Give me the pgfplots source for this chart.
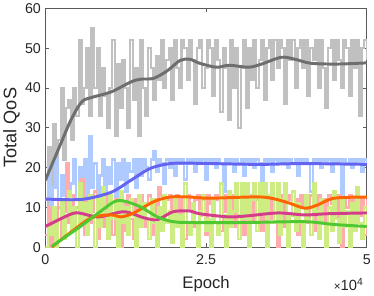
\documentclass[border=0pt]{standalone}
\usepackage{fontspec}
\setmainfont{Liberation Sans}
\usepackage{pgfplots}
\pgfplotsset{compat=1.18}
\usepackage{pgfplotstable}
\definecolor{cgrayn}{RGB}{192,192,192}
\definecolor{cgrays}{RGB}{110,110,110}
\definecolor{cbluen}{RGB}{175,202,255}
\definecolor{cblues}{RGB}{100,100,240}
\definecolor{credn}{RGB}{255,172,172}
\definecolor{corange}{RGB}{255,100,0}
\definecolor{cmag}{RGB}{212,60,140}
\definecolor{cgreens}{RGB}{80,200,50}
\definecolor{cgreenn}{RGB}{205,236,130}
\definecolor{caxis}{RGB}{90,90,90}
\pgfplotstableread{
x gray lblue lred lgreen
0 3 12 3 0
400 25 20 10 5
800 10 8 0 3
1200 31 15 8 10
1600 18 22 5 0
2000 27 10 12 7
2400 40 18 2 12
2800 22 13 9 2
3200 35 21 21 8
3600 37 11 6 14
4000 27 16 13 4
4400 40 22 4 10
4800 33 12 10 0
5200 52 20 7 16
5600 36 14 17 6
6000 40 22 3 11
6400 50 10 12 3
6800 33 28 6 13
7200 55 15 9 8
7600 40 21 14 0
8000 50 12 2 12
8400 33 18 11 5
8800 45 22 5 15
9200 38 13 13 9
9600 30 20 7 2
10000 40 16 10 13
10400 52 22 3 7
10800 28 11 12 11
11200 46 21 6 0
11600 35 17 0 14
12000 47 22 11 6
12400 40 14 4 10
12800 30 21 13 3
13200 52 19 7 12
13600 37 22 2 8
14000 45 15 12 0
14400 28 22 9 13
14800 52 18 13 5
15200 40 22 5 11
15600 33 20 11 7
16000 50 17 13 2
16400 45 22 3 12
16800 37 24 12 6
17200 48 19 8 0
17600 42 22 15 10
18000 52 21 13 4
18400 40 16 6 13
18800 47 22 12 6
19200 50 20 13 9
19600 37 22 4 1
20000 52 18 12 12
20400 45 22 13 5
20800 40 21 7 8
21200 52 22 12 0
21600 50 17 2 16
22000 42 22 13 6
22400 52 21 10 3
22800 47 22 5 11
23200 36 19 12 6
23600 50 22 13 0
24000 52 21 8 9
24400 40 22 12 13
24800 45 17 3 4
25200 52 22 13 7
25600 50 21 11 0
26000 38 22 6 12
26400 52 20 13 6
26800 47 22 12 3
27200 34 21 4 16
27600 50 14 13 8
28000 45 22 9 0
28400 32 21 12 14
28800 52 22 13 5
29200 40 19 5 9
29600 50 22 12 16
30000 30 21 8 2
30400 45 22 13 16
30800 52 18 3 7
31200 35 22 12 16
31600 50 21 10 0
32000 42 22 13 12
32400 52 20 6 16
32800 40 22 12 4
33200 47 21 13 16
33600 52 16 4 9
34000 37 22 12 16
34400 50 21 9 0
34800 52 22 13 13
35200 42 19 7 16
35600 52 22 12 6
36000 45 21 0 16
36400 52 22 13 3
36800 50 21 11 12
37200 36 22 5 16
37600 52 20 12 0
38000 47 22 13 8
38400 52 21 8 14
38800 40 22 12 4
39200 50 18 3 11
39600 52 22 13 6
40000 45 21 10 0
40400 52 22 12 13
40800 38 21 6 7
41200 50 14 13 3
41600 47 22 12 16
42000 52 21 4 9
42400 40 22 13 2
42800 52 20 9 12
43200 45 22 12 6
43600 35 21 2 0
44000 50 22 13 10
44400 52 19 11 4
44800 42 22 12 14
45200 52 21 7 7
45600 47 22 13 1
46000 40 12 0 12
46400 52 22 12 5
46800 50 21 10 9
47200 38 22 13 0
47600 52 20 5 11
48000 45 22 12 4
48400 52 21 13 15
48800 33 22 8 6
49200 50 19 12 2
49600 52 22 3 10
50000 47 21 12 5
}\noisy
\begin{document}
\begin{tikzpicture}
\begin{axis}[
  name=ax,
  scale only axis,
  width=327pt, height=243pt,
  xmin=0, xmax=50000, ymin=0, ymax=60,
  xtick={0,25000,50000}, xticklabels={0,2.5,5},
  scaled x ticks=false,
  ytick={0,10,20,30,40,50,60},
  tick align=inside,
  major tick length=4pt,
  axis line style={caxis, line width=0.6pt},
  tick style={caxis, line width=0.6pt},
  ticklabel style={font=\fontsize{14.5}{16}\selectfont, text=black!85},
  xticklabel style={yshift=-4pt},
  yticklabel style={xshift=-1pt},
  /pgf/number format/assume math mode=true,
  xlabel={Epoch},
  ylabel={Total QoS},
  label style={font=\fontsize{17}{19}\selectfont, text=black!85},
  ylabel style={font=\fontsize{18.5}{20}\selectfont},
  xlabel style={at={(axis description cs:0.5,-0.173)}, anchor=base},
  ylabel style={at={(axis description cs:-0.105,0.5)}, anchor=center},
]
\addplot[const plot, cgrayn, line width=2.4pt] table[x=x, y=gray] {\noisy};
\addplot[const plot, cbluen, line width=2.4pt] table[x=x, y=lblue] {\noisy};
\addplot[const plot, credn, line width=2.4pt] table[x=x, y=lred] {\noisy};
\addplot[const plot, cgreenn, line width=2.4pt] table[x=x, y=lgreen] {\noisy};
\addplot[smooth, cgrays, line width=3pt] coordinates {
(0,16.8) (2140,25) (4000,32) (5660,36.5) (7190,37.6) (10240,39) (13300,41.5) (14830,42.2) (16820,42.4) (18960,44.3) (20950,46.9) (22480,47.2) (24000,46.2) (26600,45.2) (28590,45.7) (31650,45.2) (33640,46) (36700,47.7) (38840,47.2) (41280,46.2) (45410,46) (50000,46.3)};
\addplot[smooth, cblues, line width=3pt] coordinates {
(0,12.1) (5660,12) (10240,13.8) (13300,16.8) (16340,19.8) (19400,21) (22480,21.1) (33000,20.8) (40000,21) (50000,20.8)};
\addplot[smooth, cmag, line width=3pt] coordinates {
(0,5.2) (3670,8.1) (5200,8.6) (8260,7.6) (12230,8.9) (15290,7.4) (17430,6.9) (19860,8.9) (22480,9.1) (24000,8.4) (28590,7.6) (31650,7.9) (36240,8.6) (40360,8.1) (43880,8.4) (50000,8.6)};
\addplot[smooth, corange, line width=3pt] coordinates {
(1000,0) (4000,3.8) (7190,7.4) (10240,8.1) (11770,7.6) (13760,8.6) (16820,11.4) (19400,12.6) (22480,12.6) (25500,12.3) (33640,12.6) (37300,11.4) (40360,9.8) (42340,10.6) (44900,12.3) (50000,12.6)};
\addplot[smooth, cgreens, line width=3pt] coordinates {
(1000,0.2) (5200,4.9) (8260,8.6) (10700,11.4) (12230,11.6) (14830,10.1) (17430,7.6) (19860,6.4) (22480,6.2) (31200,6.2) (40360,6.4) (44900,5.7) (50000,5.2)};
\end{axis}
\node[anchor=base east, font=\fontsize{15}{16}\selectfont, text=black!85] at ([yshift=-44pt]ax.south east) {{\fontsize{12}{13}\selectfont ×}10\textsuperscript{4}};
\end{tikzpicture}
\end{document}
